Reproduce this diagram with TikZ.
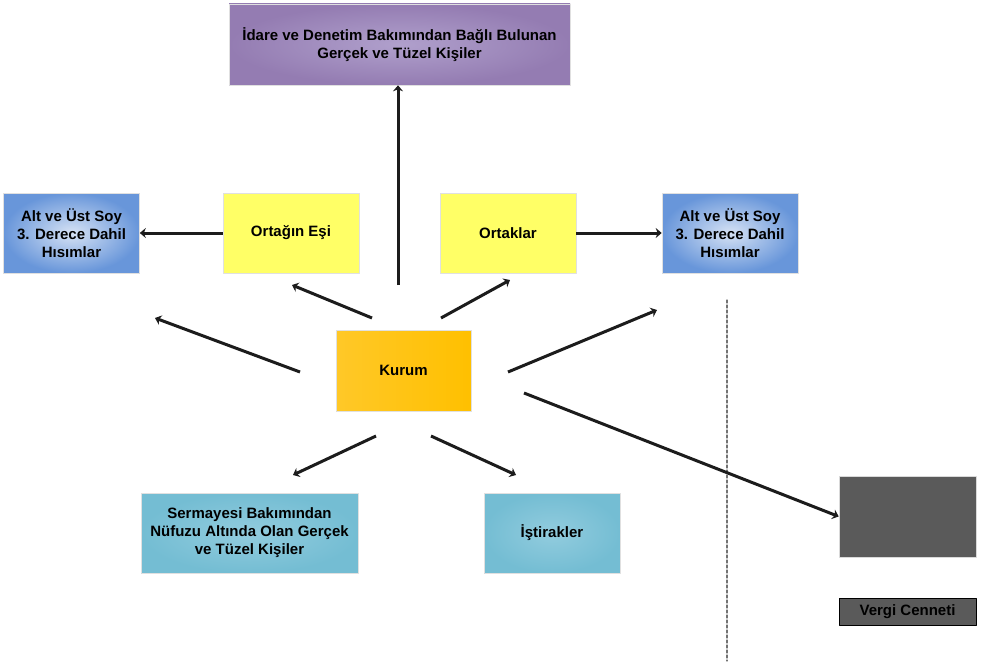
\documentclass[tikz,border=0pt]{standalone}
\usepackage{fontspec}
\setmainfont{Liberation Sans}
\usetikzlibrary{arrows.meta}

\definecolor{lilacOut}{RGB}{148,124,178}
\definecolor{lilacIn}{RGB}{176,160,204}
\definecolor{blueOut}{RGB}{104,150,218}
\definecolor{blueIn}{RGB}{214,226,244}
\definecolor{lemon}{RGB}{255,255,102}
\definecolor{goldL}{RGB}{255,200,40}
\definecolor{goldR}{RGB}{255,192,0}
\definecolor{tealOut}{RGB}{116,189,211}
\definecolor{tealIn}{RGB}{146,204,222}
\definecolor{haven}{RGB}{90,90,90}
\definecolor{ink}{RGB}{28,28,28}

\begin{document}
\begin{tikzpicture}[x=1pt, y=-1pt,
                    line cap=round, line join=round,
                    box/.style={minimum width=136pt, minimum height=80pt, inner sep=2pt,
                                align=center, draw=black!12, line width=0.6pt,
                                font=\fontsize{15}{18}\selectfont\bfseries},
                    lilacbox/.style={box, shading=radial, inner color=lilacIn, outer color=lilacOut},
                    bluebox/.style={box, shading=radial, inner color=blueIn, outer color=blueOut},
                    yellowbox/.style={box, fill=lemon},
                    goldbox/.style={box, left color=goldL, right color=goldR},
                    tealbox/.style={box, shading=radial, inner color=tealIn, outer color=tealOut},
                    arr/.style={ink, line width=3pt, line cap=butt, -{Stealth[length=6pt,width=10pt]}}]
  \useasboundingbox (0,0) rectangle (987,661);

  % top box
  \node[lilacbox, minimum width=341pt, minimum height=81pt] (idare) at (399.5,44.5)
    {İdare ve Denetim Bakımından Bağlı Bulunan\\Gerçek ve Tüzel Kişiler};

  % middle row
  \node[bluebox]   (soyL)  at (71.5,233) {Alt ve Üst Soy\\3. Derece Dahil\\Hısımlar};
  \node[yellowbox] (esi)   at (291,233)  {Ortağın Eşi};
  \node[yellowbox] (ortak) at (508,233)  {Ortaklar};
  \node[bluebox]   (soyR)  at (730,233)  {Alt ve Üst Soy\\3. Derece Dahil\\Hısımlar};

  % centre
  \node[goldbox, minimum width=135pt, minimum height=81pt] (kurum) at (403.5,370.5) {Kurum};

  % bottom row
  \node[tealbox, minimum width=217pt] (sermaye) at (249.5,533)
    {Sermayesi Bakımından\\Nüfuzu Altında Olan Gerçek\\ve Tüzel Kişiler};
  \node[tealbox] (istirak) at (552,533) {İştirakler};

  % tax haven
  \node[box, fill=haven, draw=black!15, minimum width=137pt, minimum height=81pt] (cennet) at (907.5,516.5) {};
  \node[box, fill=haven, draw=black, line width=0.8pt, minimum width=137pt, minimum height=27pt] (vergi) at (907.5,611.5) {Vergi Cenneti};

  % border line
  \coordinate (sinirA) at (727,300);
  \coordinate (sinirB) at (727,661);
  \draw[black!55, line width=1.2pt, dash pattern=on 3pt off 2pt] (sinirA) -- (sinirB);

  % arrow ends
  \coordinate (kUp)    at (398,285);
  \coordinate (kEsiA)  at (372,318);
  \coordinate (kEsiB)  at (292,285);
  \coordinate (kOrtA)  at (441,318);
  \coordinate (kOrtB)  at (510,280);
  \coordinate (kSoyLA) at (300,372);
  \coordinate (kSoyLB) at (155,318);
  \coordinate (kSoyRA) at (508,372);
  \coordinate (kSoyRB) at (657,310);
  \coordinate (kCenA)  at (524,393);
  \coordinate (kSerA)  at (376,436);
  \coordinate (kSerB)  at (293,475);
  \coordinate (kIstA)  at (431,436);
  \coordinate (kIstB)  at (516,475);

  % arrows
  \draw[arr] (kUp) -- (kUp |- idare.south);
  \draw[arr] (esi.west) -- (soyL.east);
  \draw[arr] (ortak.east) -- (soyR.west);
  \draw[arr] (kEsiA) -- (kEsiB);
  \draw[arr] (kOrtA) -- (kOrtB);
  \draw[arr] (kSoyLA) -- (kSoyLB);
  \draw[arr] (kSoyRA) -- (kSoyRB);
  \draw[arr] (kCenA) -- (cennet.west);
  \draw[arr] (kSerA) -- (kSerB);
  \draw[arr] (kIstA) -- (kIstB);
\end{tikzpicture}
\end{document}
